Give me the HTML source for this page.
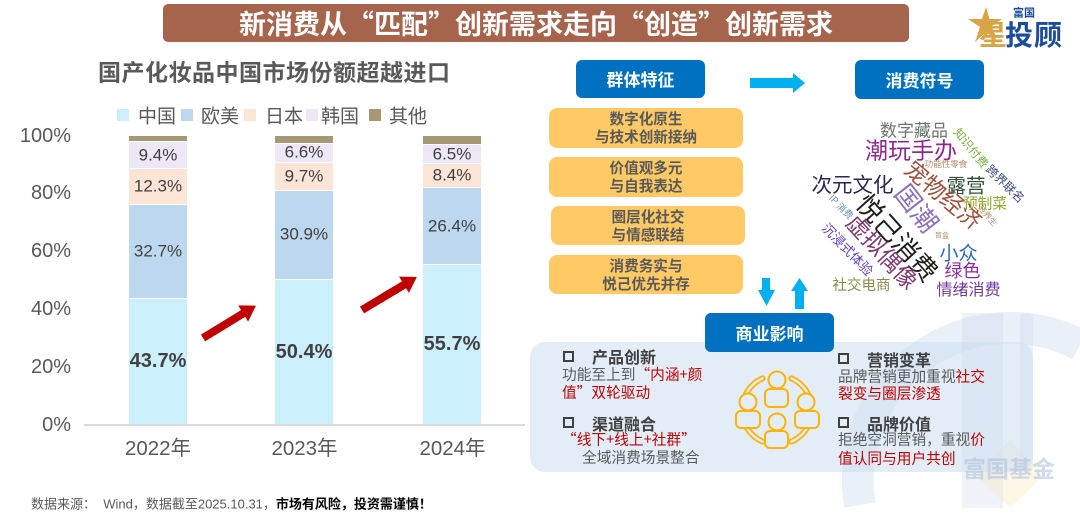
<!DOCTYPE html>
<html><head><meta charset="utf-8">
<style>
*{margin:0;padding:0;box-sizing:border-box}
html,body{width:1080px;height:513px;overflow:hidden;background:#fff}
body{position:relative;font-family:"Liberation Sans","Noto Sans CJK SC",sans-serif}
.a{position:absolute;white-space:nowrap}
.c{position:absolute;white-space:nowrap;line-height:1;transform:translate(-50%,-50%)}
.l{position:absolute;white-space:nowrap;line-height:1;transform:translateY(-50%)}
.cj{font-family:"Noto Sans CJK SC","Liberation Sans",sans-serif}
.seg{position:absolute;width:58px;border-top:1px solid #fff}
.v{position:absolute;width:58px;text-align:center;line-height:1;transform:translateY(-50%);font-size:17px;color:#404040}
.vb{font-size:20px;font-weight:700}
.yl{position:absolute;left:0;width:71px;text-align:right;font-size:20px;color:#595959;line-height:1;transform:translateY(-50%)}
.xl{position:absolute;font-size:20.5px;color:#595959;line-height:1;transform:translate(-50%,-50%);white-space:nowrap}
.sq{position:absolute;width:12px;height:12px;top:109px}
.lg{position:absolute;font-size:19px;color:#595959;line-height:1;top:115px;transform:translateY(-50%)}
.bb{position:absolute;background:#0070C0;border-radius:6px;color:#fff;font-weight:700;font-size:17px;text-align:center}
.yb{position:absolute;background:#FFC966;border-radius:8px;color:#595959;font-weight:700;font-size:14.6px;line-height:18px;text-align:center;display:flex;flex-direction:column;justify-content:center}
.w{position:absolute;white-space:nowrap;line-height:1;font-family:"Noto Sans CJK SC",sans-serif}
.ck{position:absolute;width:11px;height:11px;border:2.5px solid #404040}
.hd{font-size:16px;font-weight:700;color:#404040}
.tx{font-size:14.7px;color:#595959}
.r{color:#C00000}
</style></head>
<body>

<!-- watermark -->
<svg class="a" style="left:0;top:0" width="1080" height="513" viewBox="0 0 1080 513">
  <path d="M860,505 A152,152 0 0 1 1080,345" fill="none" stroke="rgba(190,208,232,0.32)" stroke-width="32"/>
  <rect x="962" y="313" width="41" height="195" fill="rgba(190,208,232,0.25)"/>
  <rect x="1020" y="313" width="13" height="160" rx="6" fill="rgba(190,208,232,0.25)"/>
  <polygon points="1010,440 1045,475 1010,508 975,475" fill="rgba(250,230,180,0.3)"/>
</svg>

<!-- title banner -->
<div class="a cj" style="left:163px;top:4px;width:746px;height:38px;background:#A6644D;border-radius:5px;color:#fff;font-weight:700;font-size:27px;line-height:38px;text-align:center;letter-spacing:0px">新消费从“匹配”创新需求走向“创造”创新需求</div>

<!-- logo -->
<svg class="a" style="left:962px;top:4px" width="44" height="44" viewBox="0 0 44 44">
  <polygon points="24,3 27.5,15 40,15 30,22 34,36 24,28 13,38 18,23 6,15 20,15" fill="#D8A445"/>
</svg>
<div class="c cj" style="left:1024px;top:13px;font-size:11px;font-weight:700;color:#1B4C9C">富国</div>
<div class="c cj" style="left:993px;top:34px;font-size:28px;font-weight:700;color:#D8A445">星</div>
<div class="c cj" style="left:1034px;top:34px;font-size:28px;font-weight:700;color:#1B4C9C;letter-spacing:1px">投顾</div>

<!-- chart title -->
<div class="l cj" style="left:98px;top:71px;font-size:23px;font-weight:700;color:#595959;letter-spacing:0.5px">国产化妆品中国市场份额超越进口</div>

<!-- legend -->
<div class="sq" style="left:117px;background:#CCEFFC"></div><div class="lg cj" style="left:138px">中国</div>
<div class="sq" style="left:181px;background:#BDD7EE"></div><div class="lg cj" style="left:201px">欧美</div>
<div class="sq" style="left:244px;background:#FCE4D6"></div><div class="lg cj" style="left:265px">日本</div>
<div class="sq" style="left:306px;background:#EDE7F6"></div><div class="lg cj" style="left:321px">韩国</div>
<div class="sq" style="left:369px;background:#A69775"></div><div class="lg cj" style="left:389px">其他</div>

<!-- y axis -->
<div class="yl" style="top:135.5px">100%</div>
<div class="yl" style="top:193.3px">80%</div>
<div class="yl" style="top:251px">60%</div>
<div class="yl" style="top:309px">40%</div>
<div class="yl" style="top:366.8px">20%</div>
<div class="yl" style="top:424.5px">0%</div>

<!-- bar 1 -->
<div class="seg" style="left:129px;top:298.3px;height:126.2px;background:#CCEFFC"></div>
<div class="seg" style="left:129px;top:203.9px;height:94.4px;background:#BDD7EE"></div>
<div class="seg" style="left:129px;top:168.3px;height:35.6px;background:#FCE4D6"></div>
<div class="seg" style="left:129px;top:141.2px;height:27.1px;background:#EDE7F6"></div>
<div class="seg" style="left:129px;top:135.7px;height:5.5px;background:#A69775;border:none"></div>
<!-- bar 2 -->
<div class="seg" style="left:275px;top:278.9px;height:145.6px;background:#CCEFFC"></div>
<div class="seg" style="left:275px;top:189.7px;height:89.2px;background:#BDD7EE"></div>
<div class="seg" style="left:275px;top:161.7px;height:28px;background:#FCE4D6"></div>
<div class="seg" style="left:275px;top:142.6px;height:19.1px;background:#EDE7F6"></div>
<div class="seg" style="left:275px;top:135.7px;height:6.9px;background:#A69775;border:none"></div>
<!-- bar 3 -->
<div class="seg" style="left:423px;top:263.6px;height:160.9px;background:#CCEFFC"></div>
<div class="seg" style="left:423px;top:187.4px;height:76.2px;background:#BDD7EE"></div>
<div class="seg" style="left:423px;top:163.1px;height:24.3px;background:#FCE4D6"></div>
<div class="seg" style="left:423px;top:144.4px;height:18.7px;background:#EDE7F6"></div>
<div class="seg" style="left:423px;top:135.7px;height:8.7px;background:#A69775;border:none"></div>

<!-- values -->
<div class="v vb" style="left:129px;top:361.4px">43.7%</div>
<div class="v" style="left:129px;top:251.1px">32.7%</div>
<div class="v" style="left:129px;top:186.1px">12.3%</div>
<div class="v" style="left:129px;top:154.8px">9.4%</div>
<div class="v vb" style="left:275px;top:351.7px">50.4%</div>
<div class="v" style="left:275px;top:234.3px">30.9%</div>
<div class="v" style="left:275px;top:175.7px">9.7%</div>
<div class="v" style="left:275px;top:152.2px">6.6%</div>
<div class="v vb" style="left:423px;top:344px">55.7%</div>
<div class="v" style="left:423px;top:225.5px">26.4%</div>
<div class="v" style="left:423px;top:175.3px">8.4%</div>
<div class="v" style="left:423px;top:153.8px">6.5%</div>

<!-- axis -->
<div class="a" style="left:84px;top:423.5px;width:441px;height:2px;background:#D9D9D9"></div>
<div class="xl" style="left:158px;top:448.5px">2022年</div>
<div class="xl" style="left:304.5px;top:448.5px">2023年</div>
<div class="xl" style="left:452.5px;top:448.5px">2024年</div>

<!-- red arrows -->
<svg class="a" style="left:0;top:0" width="540" height="513" viewBox="0 0 540 513">
  <g transform="translate(203,338) rotate(-31.4)"><polygon points="0,-4 47,-4 47,-9.5 62,0 47,9.5 47,4 0,4" fill="#C00000"/></g>
  <g transform="translate(362,310) rotate(-31)"><polygon points="0,-4 49,-4 49,-9.5 64,0 49,9.5 49,4 0,4" fill="#C00000"/></g>
</svg>

<!-- footer -->
<div class="l" style="left:31px;top:503.5px;font-size:13px;color:#595959">数据来源：&nbsp; Wind，数据截至2025.10.31，<span style="color:#000;font-weight:700">市场有风险，投资需谨慎！</span></div>

<!-- right: boxes -->
<div class="bb cj" style="left:576px;top:60px;width:129px;height:38px;line-height:38px">群体特征</div>
<div class="bb cj" style="left:855px;top:60px;width:129px;height:39px;line-height:39px">消费符号</div>

<svg class="a" style="left:740px;top:60px" width="80" height="252" viewBox="740 60 80 252">
  <polygon points="750,78 793,78 793,73 805,83 793,93 793,88 750,88" fill="#00B0F0"/>
  <polygon points="762,278 770,278 770,290 775,290 766.5,306 758,290 762,290" fill="#00B0F0"/>
  <polygon points="799.5,278 808,291 804,291 804,309 795,309 795,291 791,291" fill="#00B0F0"/>
</svg>

<div class="yb cj" style="left:549px;top:108px;width:194px;height:40px"><div>数字化原生</div><div>与技术创新接纳</div></div>
<div class="yb cj" style="left:549px;top:157px;width:194px;height:40px"><div>价值观多元</div><div>与自我表达</div></div>
<div class="yb cj" style="left:551px;top:206px;width:194px;height:39px"><div>圈层化社交</div><div>与情感联结</div></div>
<div class="yb cj" style="left:549px;top:255px;width:194px;height:39px"><div>消费务实与</div><div>悦己优先并存</div></div>

<!-- word cloud -->
<div class="w" style="left:914px;top:128.5px;font-size:17px;color:#6B786E;transform:translate(-50%,-50%)">数字藏品</div>
<div class="w" style="left:911px;top:149px;font-size:23px;color:#8E2A8C;transform:translate(-50%,-50%)">潮玩手办</div>
<div class="w" style="left:852.5px;top:183px;font-size:20.5px;color:#2B2755;transform:translate(-50%,-50%)">次元文化</div>
<div class="w" style="left:966px;top:184px;font-size:19.5px;color:#2F4F3A;transform:translate(-50%,-50%)">露营</div>
<div class="w" style="left:985px;top:203.5px;font-size:14.7px;color:#8DAA2C;transform:translate(-50%,-50%)">预制菜</div>
<div class="w" style="left:946px;top:163.5px;font-size:8.5px;color:#B48C6C;transform:translate(-50%,-50%)">功能性零食</div>
<div class="w" style="left:958.5px;top:251.5px;font-size:19px;color:#2D6CB3;transform:translate(-50%,-50%)">小众</div>
<div class="w" style="left:962.5px;top:270px;font-size:18px;color:#8C2C9C;transform:translate(-50%,-50%)">绿色</div>
<div class="w" style="left:861.5px;top:285px;font-size:14.5px;color:#8A8B4B;transform:translate(-50%,-50%)">社交电商</div>
<div class="w" style="left:968.5px;top:288px;font-size:16px;color:#6B3A9B;transform:translate(-50%,-50%)">情绪消费</div>
<div class="w" style="left:942px;top:235.5px;font-size:7px;color:#B48C6C;transform:translate(-50%,-50%)">盲盒</div>
<div class="w" style="left:944px;top:194px;font-size:23px;color:#A0523D;transform:translate(-50%,-50%) rotate(40deg)">宠物经济</div>
<div class="w" style="left:917px;top:208px;font-size:26px;color:#8F6FB8;transform:translate(-50%,-50%) rotate(52deg)">国潮</div>
<div class="w" style="left:898px;top:237px;font-size:26.5px;color:#1F1F1A;transform:translate(-50%,-50%) rotate(48deg)">悦己消费</div>
<div class="w" style="left:883px;top:251px;font-size:23px;color:#7E3B73;transform:translate(-50%,-50%) rotate(47deg)">虚拟偶像</div>
<div class="w" style="left:848px;top:249px;font-size:13.3px;color:#6540C0;transform:translate(-50%,-50%) rotate(46deg)">沉浸式体验</div>
<div class="w" style="left:841px;top:207px;font-size:9.5px;color:#7090A8;transform:translate(-50%,-50%) rotate(45deg)">IP 消费</div>
<div class="w" style="left:971px;top:148px;font-size:11.7px;color:#78B040;transform:translate(-50%,-50%) rotate(51deg)">知识付费</div>
<div class="w" style="left:1005px;top:184px;font-size:12px;color:#3A4878;transform:translate(-50%,-50%) rotate(44deg)">跨界联名</div>
<div class="w" style="left:987px;top:216px;font-size:8px;color:#B4906C;transform:translate(-50%,-50%) rotate(50deg)">轻养生</div>

<!-- bottom panel -->
<div class="a" style="left:530px;top:342px;width:503px;height:130px;background:rgba(200,220,240,0.5);border-radius:15px"></div>
<div class="a" style="left:963px;top:456px;font-size:23px;font-weight:700;color:rgba(170,192,220,0.55);line-height:1;font-family:'Noto Sans CJK SC',sans-serif">富国基金</div>

<div class="bb cj" style="left:705px;top:313px;width:129px;height:39px;line-height:39px">商业影响</div>

<!-- icon -->
<svg class="a" style="left:720px;top:360px" width="115" height="95" viewBox="720 360 115 95">
  <g fill="none" stroke="#FFB300" stroke-width="6" stroke-linecap="round">
    <path d="M791.4,378.4 A35,35 0 0 1 808.7,395.2"/>
    <path d="M808.7,424.8 A35,35 0 0 1 791.4,441.6"/>
    <path d="M762.6,441.6 A35,35 0 0 1 745.3,424.8"/>
    <path d="M745.3,395.2 A35,35 0 0 1 762.6,378.4"/>
  </g>
  <g fill="none" stroke="#E3EDF7" stroke-width="2.4" stroke-linecap="round">
    <path d="M791.4,378.4 A35,35 0 0 1 808.7,395.2"/>
    <path d="M808.7,424.8 A35,35 0 0 1 791.4,441.6"/>
    <path d="M762.6,441.6 A35,35 0 0 1 745.3,424.8"/>
    <path d="M745.3,395.2 A35,35 0 0 1 762.6,378.4"/>
  </g>
  <g fill="#E3EDF7" stroke="#FFB300" stroke-width="2">
    <rect x="765" y="389" width="23" height="18" rx="5"/><circle cx="777" cy="380" r="8.5"/>
    <rect x="736" y="411" width="24" height="17" rx="5"/><circle cx="748" cy="402" r="8.5"/>
    <rect x="795" y="411" width="24" height="17" rx="5"/><circle cx="806" cy="402" r="8.5"/>
    <rect x="765" y="431" width="23" height="17" rx="5"/><circle cx="777" cy="422" r="8.5"/>
  </g>
</svg>

<!-- left column -->
<div class="ck" style="left:563px;top:351px"></div>
<div class="l cj hd" style="left:592px;top:356px">产品创新</div>
<div class="l cj tx" style="left:562px;top:375px">功能至上到<span class="r">“内涵+颜</span></div>
<div class="l cj tx r" style="left:562px;top:392.5px">值”双轮驱动</div>
<div class="ck" style="left:563px;top:417px"></div>
<div class="l cj hd" style="left:592px;top:422.5px">渠道融合</div>
<div class="l cj tx r" style="left:562px;top:440px">“线下+线上+社群”</div>
<div class="l cj tx" style="left:582px;top:457.5px">全域消费场景整合</div>

<!-- right column -->
<div class="ck" style="left:838px;top:353px"></div>
<div class="l cj hd" style="left:867px;top:358.5px">营销变革</div>
<div class="l cj tx" style="left:838px;top:376.5px">品牌营销更加重视<span class="r">社交</span></div>
<div class="l cj tx r" style="left:838px;top:394px">裂变与圈层渗透</div>
<div class="ck" style="left:838px;top:417px"></div>
<div class="l cj hd" style="left:867px;top:422.5px">品牌价值</div>
<div class="l cj tx" style="left:838px;top:440px">拒绝空洞营销，重视<span class="r">价</span></div>
<div class="l cj tx r" style="left:838px;top:458.5px">值认同与用户共创</div>

</body></html>
